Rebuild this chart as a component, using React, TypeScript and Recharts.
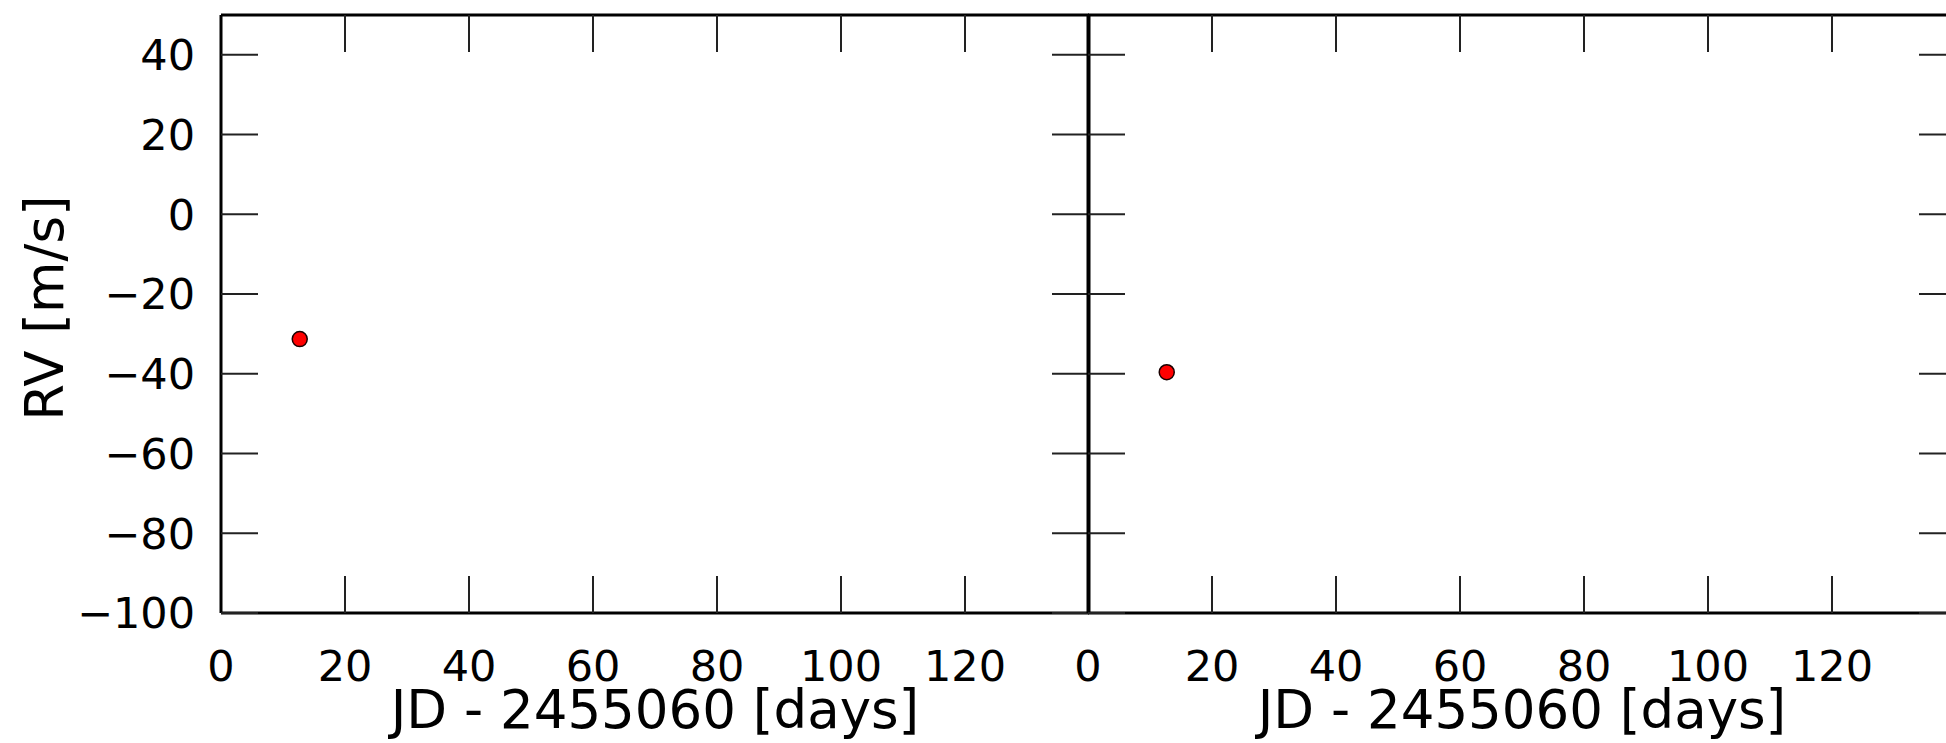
import React from 'react';
import { ScatterChart, Scatter, XAxis, YAxis, Label } from 'recharts';

// axis setup (days since JD 2455060, RV in m/s)
const xDomain = [0, 140];
const yDomain = [-100, 50];
const xTicks = [0, 20, 40, 60, 80, 100, 120];
const yTicks = [-100, -80, -60, -40, -20, 0, 20, 40];

// one observation per panel
const leftPoints = [{ jd: 12.7, rv: -31.3 }];
const rightPoints = [{ jd: 12.7, rv: -39.6 }];

const xLabel = 'JD - 2455060 [days]';
const yLabel = 'RV [m/s]';

const FONT = '"DejaVu Sans", Verdana, sans-serif';
const spine = { stroke: '#000', strokeWidth: 3 };
const tickLine = { stroke: '#222', strokeWidth: 2 };

const fmt = (v: number) => (v < 0 ? '\u2212' + Math.abs(v) : String(v));

// keeps the tick line but draws no label
const NoLabel = () => <g />;

const RedDot = (props: any) => (
  <circle cx={props.cx} cy={props.cy} r={7.5} fill="#ff0000" stroke="#1a0000" strokeWidth={1.5} />
);

const YTitle = (props: any) => {
  const vb = props.viewBox || { x: 0, y: 0, width: 0, height: 0 };
  const cx = 44;
  const cy = vb.y + vb.height / 2 - 6;
  return (
    <text
      x={0}
      y={0}
      transform={`translate(${cx},${cy}) rotate(-90)`}
      textAnchor="middle"
      dominantBaseline="central"
      fontSize={53}
      fill="#000"
      fontFamily={FONT}
    >
      {yLabel}
    </text>
  );
};

interface PanelProps {
  points: { jd: number; rv: number }[];
  withYLabels: boolean;
  leftWidth: number;
}

function Panel({ points, withYLabels, leftWidth }: PanelProps) {
  const plotW = 868;
  return (
    <ScatterChart
      width={leftWidth + plotW + 10}
      height={743}
      margin={{ top: 0, right: 0, bottom: 0, left: 0 }}
      style={{ fontFamily: FONT }}
    >
      <XAxis
        xAxisId="b"
        type="number"
        dataKey="jd"
        domain={xDomain}
        ticks={xTicks}
        interval={0}
        orientation="bottom"
        height={130}
        tickSize={-37}
        tickMargin={74}
        axisLine={spine}
        tickLine={tickLine}
        tick={{ fontSize: 43, fill: '#000' }}
        tickFormatter={fmt}
      >
        <Label value={xLabel} position="insideBottom" offset={15} style={{ fontSize: 53, fill: '#000' }} />
      </XAxis>
      <XAxis
        xAxisId="t"
        type="number"
        dataKey="jd"
        domain={xDomain}
        ticks={xTicks}
        interval={0}
        orientation="top"
        height={15}
        tickSize={-37}
        axisLine={spine}
        tickLine={tickLine}
        tick={<NoLabel />}
      />
      <YAxis
        yAxisId="l"
        type="number"
        dataKey="rv"
        domain={yDomain}
        ticks={yTicks}
        interval={0}
        width={leftWidth}
        tickSize={-37}
        tickMargin={63}
        axisLine={spine}
        tickLine={tickLine}
        tick={withYLabels ? { fontSize: 43, fill: '#000' } : <NoLabel />}
        tickFormatter={fmt}
      >
        {withYLabels && <Label content={<YTitle />} />}
      </YAxis>
      <YAxis
        yAxisId="r"
        type="number"
        dataKey="rv"
        domain={yDomain}
        ticks={yTicks}
        interval={0}
        orientation="right"
        width={10}
        tickSize={-37}
        axisLine={spine}
        tickLine={tickLine}
        tick={<NoLabel />}
      />
      {/* ties the top / right frame axes to the data so their ticks get drawn */}
      <Scatter
        data={points}
        xAxisId="t"
        yAxisId="r"
        shape={<NoLabel />}
        isAnimationActive={false}
      />
      <Scatter
        data={points}
        xAxisId="b"
        yAxisId="l"
        shape={<RedDot />}
        isAnimationActive={false}
      />
    </ScatterChart>
  );
}

export default function App() {
  return (
    <div
      style={{
        position: 'absolute',
        left: 0,
        top: 0,
        width: 1946,
        height: 743,
        overflow: 'hidden',
        background: '#fff',
      }}
    >
      <div style={{ position: 'absolute', left: 0, top: 0 }}>
        <Panel points={leftPoints} withYLabels={true} leftWidth={221} />
      </div>
      <div style={{ position: 'absolute', left: 1038, top: 0 }}>
        <Panel points={rightPoints} withYLabels={false} leftWidth={50} />
      </div>
    </div>
  );
}
